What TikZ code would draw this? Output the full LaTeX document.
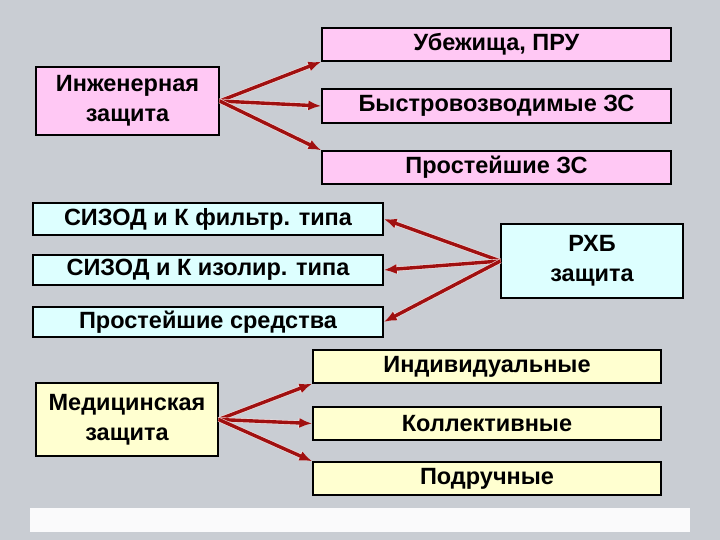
\documentclass[tikz,border=0pt]{standalone}
\usepackage{fontspec}
\setmainfont{Liberation Sans}
\usetikzlibrary{arrows.meta}
\definecolor{bg}{HTML}{C9CDD3}
\definecolor{pk}{HTML}{FFC8F4}
\definecolor{cy}{HTML}{DDFFFF}
\definecolor{yl}{HTML}{FFFFD0}
\definecolor{ar}{HTML}{A01010}
\begin{document}
\begin{tikzpicture}[x=1pt,y=-1pt,
  bx/.style={draw=black,line width=1.3pt,align=center,font=\fontsize{23.5}{30}\selectfont\bfseries,inner sep=0pt},
  ar/.style={-{Latex[length=13pt,width=10pt]},draw=ar,line width=3.4pt,preaction={draw=white!85!ar,line width=4.6pt,-{Latex[length=14pt,width=11pt]}}}]
\fill[bg] (0,0) rectangle (720,540);
\fill[white!90!bg] (30,508) rectangle (690,532);
\node[bx,fill=pk,minimum width=349,minimum height=33] (u) at (496.5,44.5) {Убежища, ПРУ};
\node[bx,fill=pk,minimum width=183,minimum height=68] (i) at (127.5,101) {Инженерная\\защита};
\node[bx,fill=pk,minimum width=349,minimum height=34] (b) at (496.5,106) {Быстровозводимые ЗС};
\node[bx,fill=pk,minimum width=349,minimum height=33] (p) at (496.5,167.5) {Простейшие ЗС};
\node[bx,fill=cy,minimum width=350,minimum height=32] (f) at (208,219) {СИЗОД и К фильтр. типа};
\node[bx,fill=cy,minimum width=350,minimum height=30] (z) at (208,270) {СИЗОД и К изолир. типа};
\node[bx,fill=cy,minimum width=182,minimum height=74] (r) at (592,261) {РХБ\\защита};
\node[bx,fill=cy,minimum width=350,minimum height=30] (s) at (208,322) {Простейшие средства};
\node[bx,fill=yl,minimum width=348,minimum height=33] (n) at (487,366.5) {Индивидуальные};
\node[bx,fill=yl,minimum width=182,minimum height=73] (m) at (127,419.5) {Медицинская\\защита};
\node[bx,fill=yl,minimum width=348,minimum height=33] (k) at (487,423.5) {Коллективные};
\node[bx,fill=yl,minimum width=348,minimum height=33] (d) at (487,478.5) {Подручные};
\draw[ar] (i.east) -- (u.south west);
\draw[ar] (i.east) -- (b.west);
\draw[ar] (i.east) -- (p.north west);
\draw[ar] (r.west) -- (f.east);
\draw[ar] (r.west) -- (z.east);
\draw[ar] (r.west) -- (s.east);
\draw[ar] (m.east) -- (n.south west);
\draw[ar] (m.east) -- (k.west);
\draw[ar] (m.east) -- (d.north west);
\end{tikzpicture}
\end{document}
